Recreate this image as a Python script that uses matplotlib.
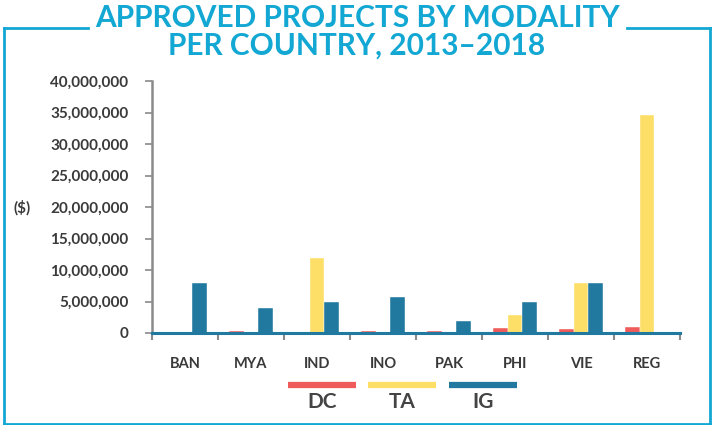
import numpy as np
import matplotlib
matplotlib.use('Agg')
import matplotlib.pyplot as plt
from matplotlib.lines import Line2D
from matplotlib.ticker import FuncFormatter

# --- data ($)
countries = ['BAN', 'MYA', 'IND', 'INO', 'PAK', 'PHI', 'VIE', 'REG']
dc = [0, 300000, 0, 300000, 300000, 800000, 600000, 900000]
ta = [0, 100000, 11900000, 100000, 0, 2900000, 7900000, 34600000]
ig = [7900000, 3900000, 4900000, 5700000, 1900000, 4900000, 7900000, 0]
series_names = ['DC', 'TA', 'IG']
yticks = np.arange(0, 40000001, 5000000)

# colours
c_dc = '#ef5b5b'
c_ta = '#fddf67'
c_ig = '#22799f'
c_frame = '#13a7d3'
c_text = '#3a3a3a'

plt.rcParams['font.family'] = ['Lato', 'DejaVu Sans']

W, H = 712, 425
fig = plt.figure(figsize=(W/100, H/100), dpi=100)

def fx(px):
    return px / W

def fy(py):
    return 1 - py / H

# --- outer frame with gap for title
frame = [((4, 27.5), (88, 27.5)), ((627, 27.5), (709.5, 27.5)),
         ((4, 27.5), (4, 423.5)), ((4, 423.5), (709.5, 423.5)), ((709.5, 27.5), (709.5, 423.5))]
for (x0, y0), (x1, y1) in frame:
    fig.add_artist(Line2D([fx(x0), fx(x1)], [fy(y0), fy(y1)], color=c_frame,
                          lw=2.0, solid_capstyle='projecting'))

# title
fig.text(fx(357), fy(18), 'APPROVED PROJECTS BY MODALITY', ha='center', va='center',
         color=c_frame, fontsize=21.5, fontweight='bold')
fig.text(fx(357), fy(46), 'PER COUNTRY, 2013\u20132018', ha='center', va='center',
         color=c_frame, fontsize=21.5, fontweight='bold')

# --- axes
ax = fig.add_axes([fx(152), fy(333), fx(680) - fx(152), fy(81) - fy(333)])
x = np.arange(len(countries))
bw = 0.222
for vals, c, off in zip([dc, ta, ig], [c_dc, c_ta, c_ig], [-1, 0, 1]):
    ax.bar(x + off*bw, vals, width=bw, color=c, edgecolor='white', linewidth=0.3, zorder=2)

ax.set_xlim(-0.5, len(countries) - 0.5)
ax.set_ylim(0, 40000000)
ax.set_yticks(yticks)
ax.yaxis.set_major_formatter(FuncFormatter(lambda v, p: '{:,.0f}'.format(v)))
ax.set_xticks(np.arange(len(countries) + 1) - 0.5)
ax.set_xticklabels([])
ax.set_xticks(x, minor=True)
ax.set_xticklabels(countries, minor=True)
ax.tick_params(axis='x', which='minor', length=0, pad=17, labelsize=10.5, labelcolor=c_text)
ax.tick_params(axis='x', which='major', length=5, width=1.5, color='#8a8a8a', direction='out')
ax.tick_params(axis='y', length=5, width=1.2, color='#8a8a8a', pad=12, labelsize=11, labelcolor=c_text)
for lab in ax.get_yticklabels() + ax.get_xticklabels(minor=True):
    lab.set_fontweight('bold')

for s in ['top', 'right']:
    ax.spines[s].set_visible(False)
ax.spines['left'].set_color('#8a8a8a')
ax.spines['left'].set_linewidth(1.8)
ax.spines['bottom'].set_color(c_ig)
ax.spines['bottom'].set_linewidth(2.2)
ax.spines['bottom'].set_zorder(3)

fig.text(fx(22), fy(208), '($)', ha='center', va='center', fontsize=11,
         fontweight='bold', color=c_text)

# --- legend drawn by hand: coloured bars with label underneath
leg_x = [(288, 356), (368, 436), (449, 517)]
for (x0, x1), c, name in zip(leg_x, [c_dc, c_ta, c_ig], series_names):
    fig.add_artist(Line2D([fx(x0), fx(x1)], [fy(385), fy(385)], color=c, lw=4.5,
                          solid_capstyle='butt'))
    fig.text(fx((x0 + x1) / 2), fy(402), name, ha='center', va='center',
             fontsize=15, fontweight='bold', color='#444444')

fig.savefig('out.png', dpi=100)
